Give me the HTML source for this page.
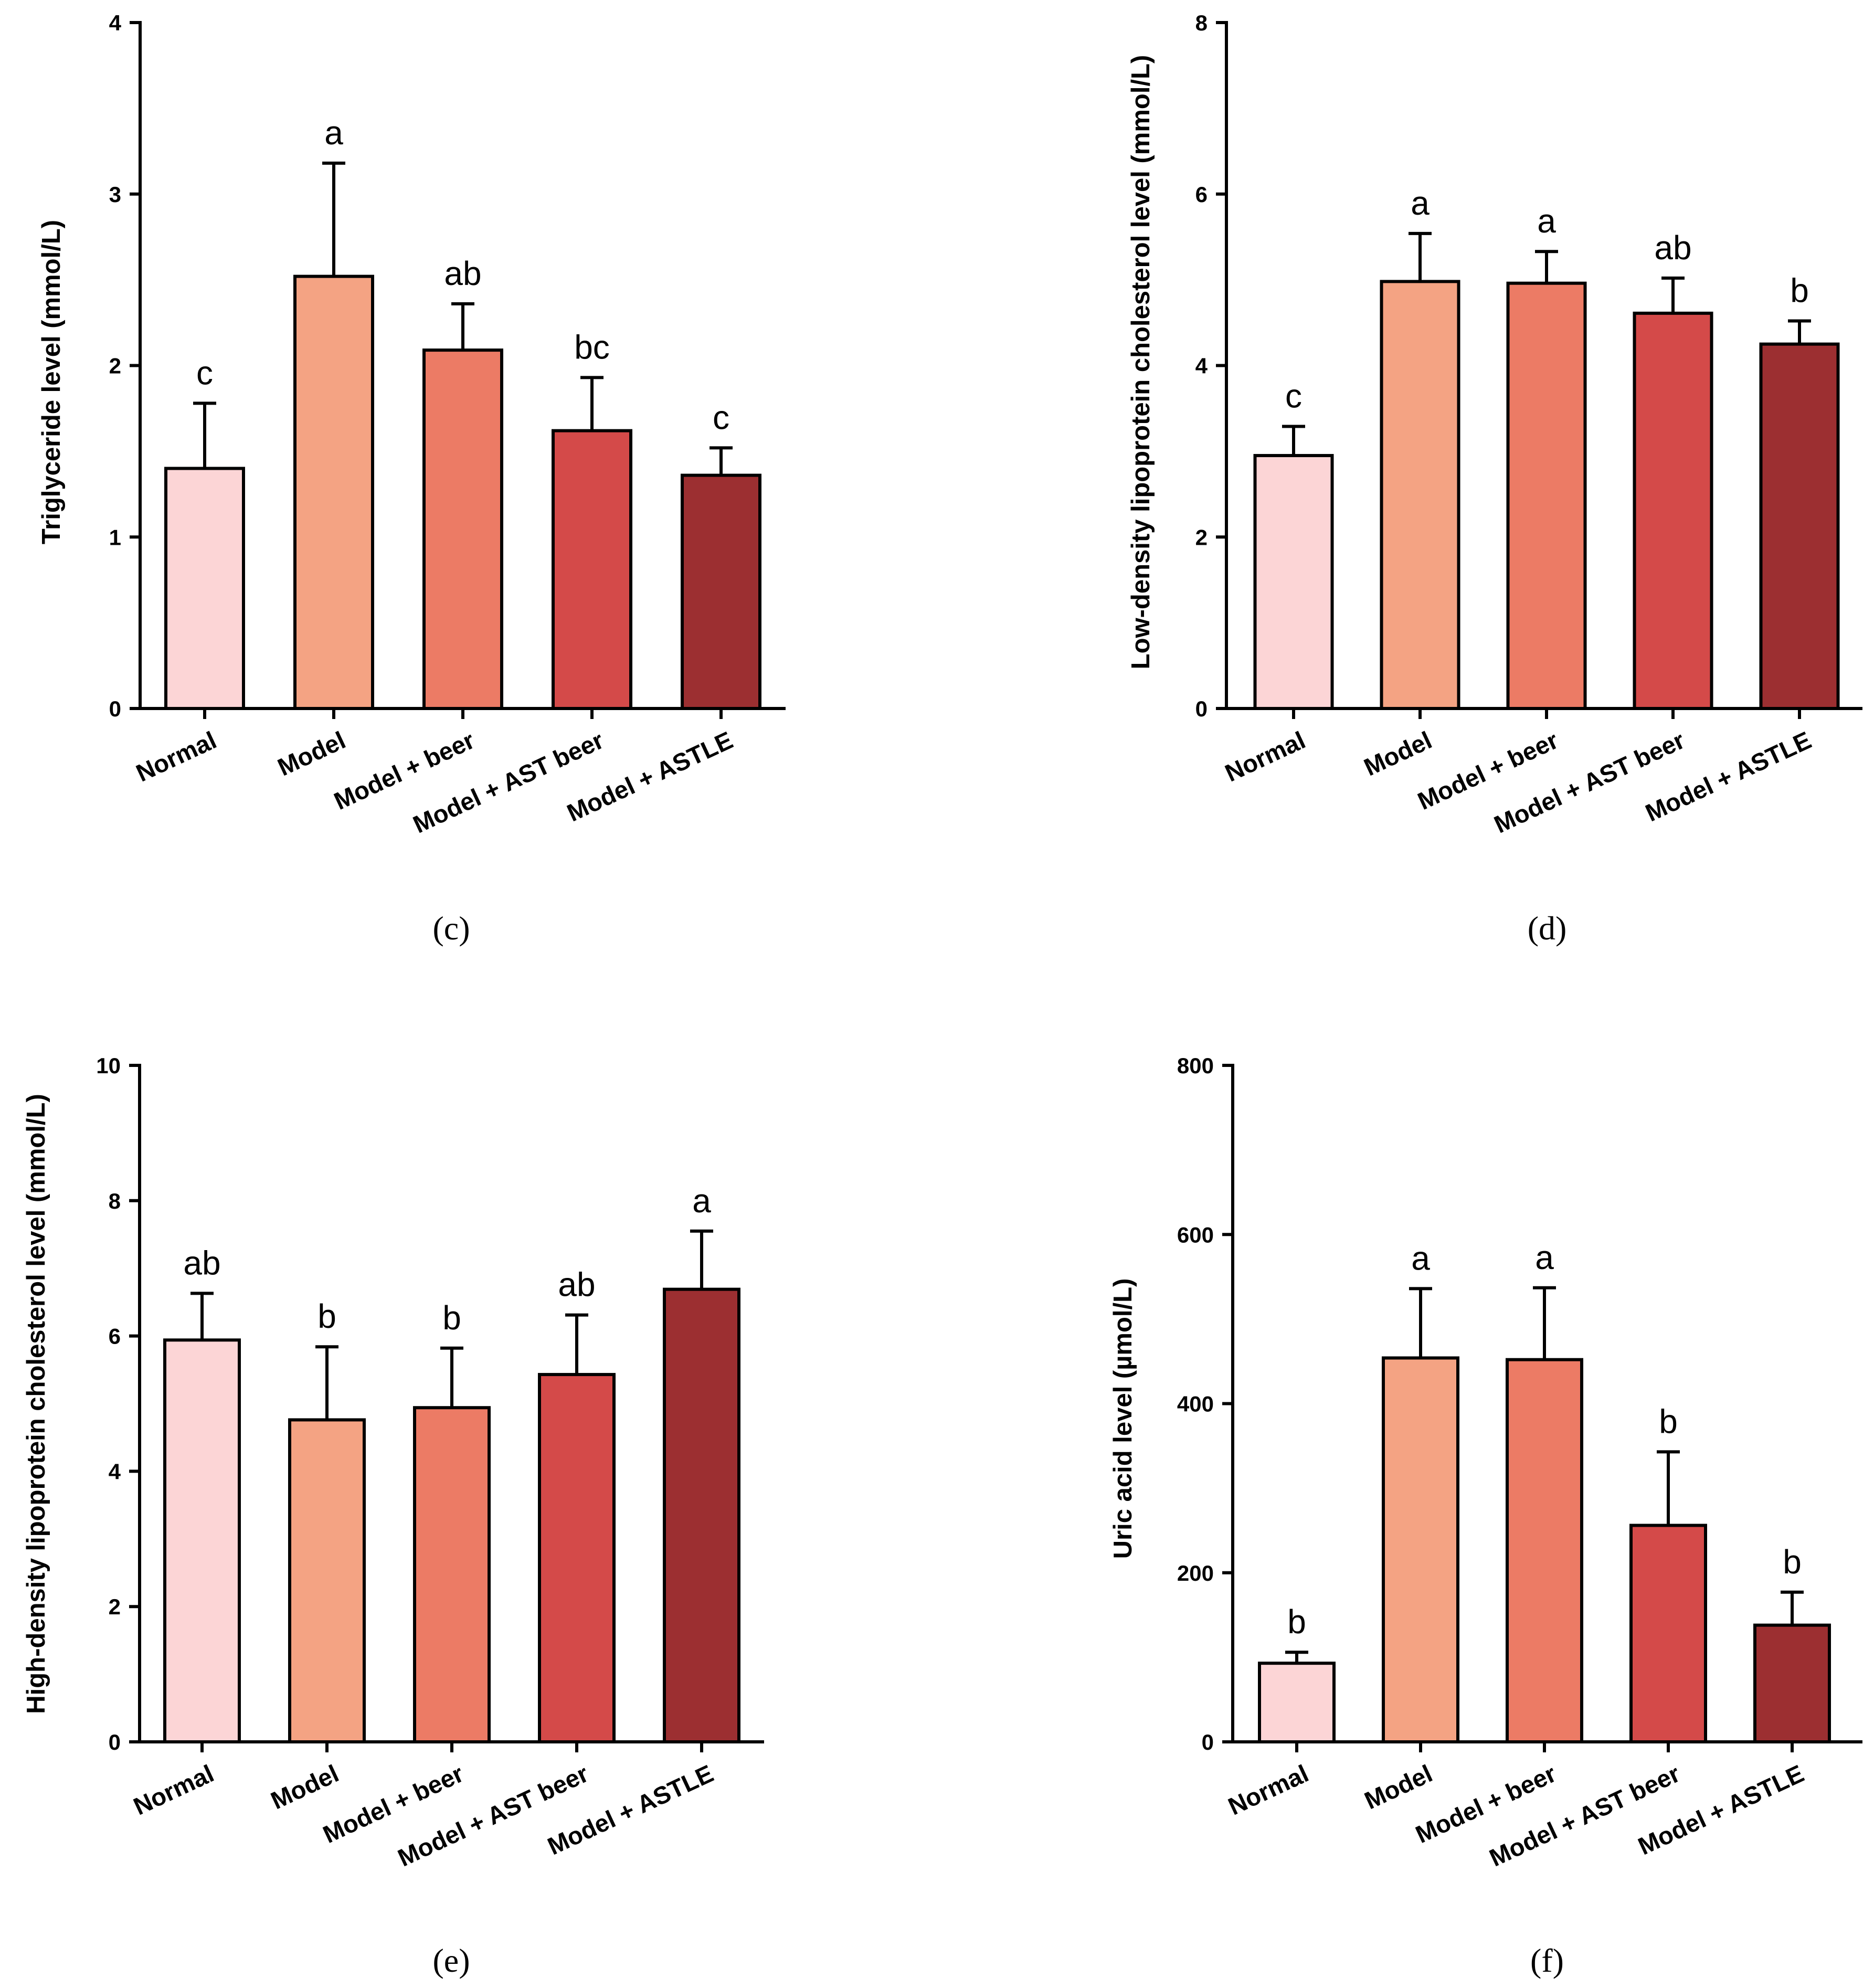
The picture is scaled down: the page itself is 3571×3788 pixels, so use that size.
<!DOCTYPE html>
<html><head><meta charset="utf-8"><style>
html,body{margin:0;padding:0;background:#fff;}
svg{display:block;}
</style></head><body>
<svg id="fig" width="3571" height="3788" viewBox="0 0 3571 3788" xmlns="http://www.w3.org/2000/svg" font-family="Liberation Sans, Arial, sans-serif"></svg>
<script>
const categories = ["Normal","Model","Model + beer","Model + AST beer","Model + ASTLE"];
const colors = ["#fcd5d6","#f4a383","#ec7b65","#d44a49","#9c2f31"];
const valuesC = [1.40,2.52,2.09,1.62,1.36];
const errC = [1.78,3.18,2.36,1.93,1.52];
const lettersC = ["c","a","ab","bc","c"];
const ticksC = [0,1,2,3,4];
const valuesD = [2.95,4.98,4.96,4.61,4.25];
const errD = [3.29,5.54,5.33,5.02,4.52];
const lettersD = ["c","a","a","ab","b"];
const ticksD = [0,2,4,6,8];
const valuesE = [5.94,4.76,4.94,5.43,6.69];
const errE = [6.63,5.84,5.82,6.31,7.55];
const lettersE = ["ab","b","b","ab","a"];
const ticksE = [0,2,4,6,8,10];
const valuesF = [93,454,452,256,138];
const errF = [106,536,537,343,177];
const lettersF = ["b","a","a","b","b"];
const ticksF = [0,200,400,600,800];

const NS="http://www.w3.org/2000/svg";
const svg=document.getElementById('fig');
function mk(tag,attrs,parent){const e=document.createElementNS(NS,tag);for(const k in attrs)e.setAttribute(k,attrs[k]);(parent||svg).appendChild(e);return e;}

const panels=[
 {id:"c",ax:267,y0:1350,yTop:43,xEnd:1497,c0:390,step:246,bw:148,vals:valuesC,err:errC,let:lettersC,ticks:ticksC,title:"Triglyceride level (mmol/L)",tx:97,ty:728,lab:"(c)",lx:860,ly:1790},
 {id:"d",ax:2337,y0:1350,yTop:43,xEnd:3549,c0:2465,step:241,bw:147,vals:valuesD,err:errD,let:lettersD,ticks:ticksD,title:"Low-density lipoprotein cholesterol level (mmol/L)",tx:2173,ty:690,lab:"(d)",lx:2948,ly:1790},
 {id:"e",ax:266,y0:3319,yTop:2030,xEnd:1456,c0:385,step:238,bw:142,vals:valuesE,err:errE,let:lettersE,ticks:ticksE,title:"High-density lipoprotein cholesterol level (mmol/L)",tx:68,ty:2675,lab:"(e)",lx:860,ly:3757},
 {id:"f",ax:2349,y0:3319,yTop:2030,xEnd:3549,c0:2471,step:236,bw:142,vals:valuesF,err:errF,let:lettersF,ticks:ticksF,title:"Uric acid level (\u00b5mol/L)",tx:2139,ty:2703,lab:"(f)",lx:2948,ly:3757}
];

panels.forEach(p=>{
  const g=mk('g',{});
  
  
  const tmax=p.ticks[p.ticks.length-1];
  const ys=v=>p.y0-(v/tmax)*(p.y0-p.yTop);
  const xs=i=>p.c0+i*p.step;
  p.vals.forEach((v,i)=>{
    const ey=ys(p.err[i]), by=ys(v), cx=xs(i);
    const l=mk('line',{x1:cx,y1:by,x2:cx,y2:ey,stroke:'#000','stroke-width':6},g);
    
    
    const cap=mk('line',{x1:cx-22,y1:ey,x2:cx+22,y2:ey,stroke:'#000','stroke-width':6},g);
    
    
    const r=mk('rect',{x:cx-p.bw/2,y:by,width:p.bw,height:p.y0-by,fill:colors[i],stroke:'#000','stroke-width':6},g);
    
    
    const t=mk('text',{x:cx,y:ey-36,'text-anchor':'middle','font-size':64},g);
    t.textContent=p.let[i];
    
    
    const tk=mk('line',{x1:cx,y1:p.y0,x2:cx,y2:p.y0+20,stroke:'#000','stroke-width':6},g);
    
    
    const lx=cx+26, ly=p.y0+72;
    const ct=mk('text',{x:lx,y:ly,'text-anchor':'end','font-size':47,'font-weight':'bold',transform:`rotate(-25 ${lx} ${ly})`},g);
    ct.textContent=categories[i];
    
    
  });
  const ya=mk('line',{x1:p.ax,y1:p.yTop-3,x2:p.ax,y2:p.y0+3,stroke:'#000','stroke-width':6},g);
  
  
  const xa=mk('line',{x1:p.ax-20,y1:p.y0,x2:p.xEnd,y2:p.y0,stroke:'#000','stroke-width':6},g);
  
  
  p.ticks.forEach(tv=>{
    const y=ys(tv);
    const tl=mk('line',{x1:p.ax-20,y1:y,x2:p.ax,y2:y,stroke:'#000','stroke-width':6},g);
    
    
    const tt=mk('text',{x:p.ax-36,y:y+15,'text-anchor':'end','font-size':42,'font-weight':'bold'},g);
    tt.textContent=tv;
    
    
  });
  const yt=mk('text',{x:p.tx,y:p.ty,'text-anchor':'middle','font-size':49,'font-weight':'bold',transform:`rotate(-90 ${p.tx} ${p.ty})`,dy:'17'},g);
  yt.textContent=p.title;
  
  
  const pl=mk('text',{x:p.lx,y:p.ly,'text-anchor':'middle','font-size':64,'font-family':'Liberation Serif, serif'},g);
  pl.textContent=p.lab;
  
  
});
</script>
</body></html>
